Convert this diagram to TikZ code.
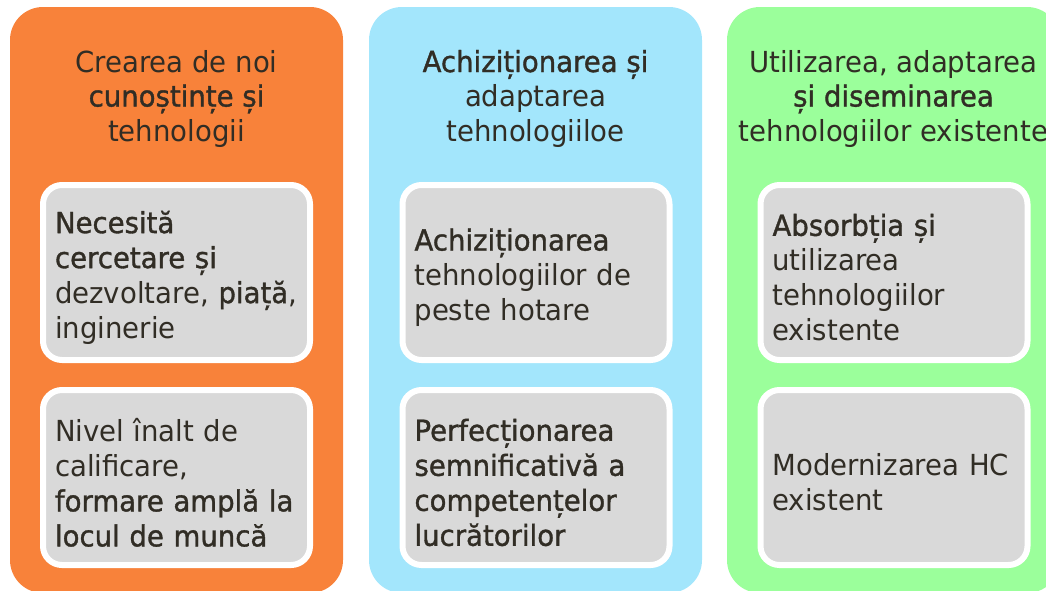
\documentclass[tikz,border=0pt]{standalone}
\usepackage{fontspec}
\setmainfont{DejaVu Sans}[FakeStretch=0.95]
\newfontfamily\hv{DejaVu Sans}[FakeStretch=0.95,FakeBold=1.2]
\definecolor{corange}{HTML}{F8823A}
\definecolor{cblue}{HTML}{A3E6FC}
\definecolor{cgreen}{HTML}{9BFF9B}
\definecolor{cgray}{HTML}{D9D9D9}
\definecolor{ctext}{HTML}{312D25}
\tikzset{
  col/.style={rectangle, rounded corners=33pt, minimum width=333pt, minimum height=586pt, inner sep=0pt, draw=none},
  ibox/.style={rectangle, rounded corners=19pt, draw=white, line width=6pt, fill=cgray,
    minimum width=267pt, minimum height=175pt, inner sep=0pt},
  itext/.style={text width=243pt, inner sep=0pt, align=left, text=ctext,
    font=\fontsize{29}{35}\selectfont, yshift=-5pt},
  head/.style={align=center, text=ctext, inner sep=0pt, font=\fontsize{29}{34.5}\selectfont}
}
\begin{document}
\begin{tikzpicture}[x=1pt,y=-1pt]
\useasboundingbox (0,0) rectangle (1046,590);
\clip (0,0) rectangle (1046,590);
\node[col, fill=corange] (c1) at (176.5,300) {};
\node[col, fill=cblue] (c2) at (535.5,300) {};
\node[col, fill=cgreen] (c3) at (893.5,300) {};
\node[head, anchor=base] (h1) at (176.5,141) {Crearea de noi\\{\hv cunoștințe și}\\tehnologii};
\node[head, anchor=base] (h2) at (535.5,141) {{\hv Achiziționarea și}\\adaptarea\\tehnologiiloe};
\node[head, anchor=base] (h3) at (893.5,141) {Utilizarea, adaptarea\\{\hv și diseminarea}\\tehnologiilor existente};
\node[ibox] (b11) at (176.5,272.5) {};
\node[ibox] (b12) at (176.5,477.5) {};
\node[ibox] (b21) at (536,272.5) {};
\node[ibox] (b22) at (536,477.5) {};
\node[ibox] (b31) at (894,272.5) {};
\node[ibox] (b32) at (894,477.5) {};
\node[itext] (t11) at (b11.center) {\mbox{\hv Necesită}\\\mbox{\hv cercetare și}\\\mbox{dezvoltare, {\hv piață},}\\\mbox{inginerie}};
\node[itext] (t12) at (b12.center) {\mbox{Nivel înalt de}\\\mbox{calificare,}\\\mbox{\hv formare amplă la}\\\mbox{\hv locul de muncă}};
\node[itext] (t21) at (b21.center) {\mbox{\hv Achiziționarea}\\\mbox{tehnologiilor de}\\\mbox{peste hotare}};
\node[itext] (t22) at (b22.center) {\mbox{\hv Perfecționarea}\\\mbox{\hv semnificativă a}\\\mbox{\hv competențelor}\\\mbox{\hv lucrătorilor}};
\node[itext] (t31) at (b31.center) {\mbox{\hv Absorbția și}\\\mbox{utilizarea}\\\mbox{tehnologiilor}\\\mbox{existente}};
\node[itext] (t32) at (b32.center) {\mbox{Modernizarea HC}\\\mbox{existent}};
\end{tikzpicture}
\end{document}
